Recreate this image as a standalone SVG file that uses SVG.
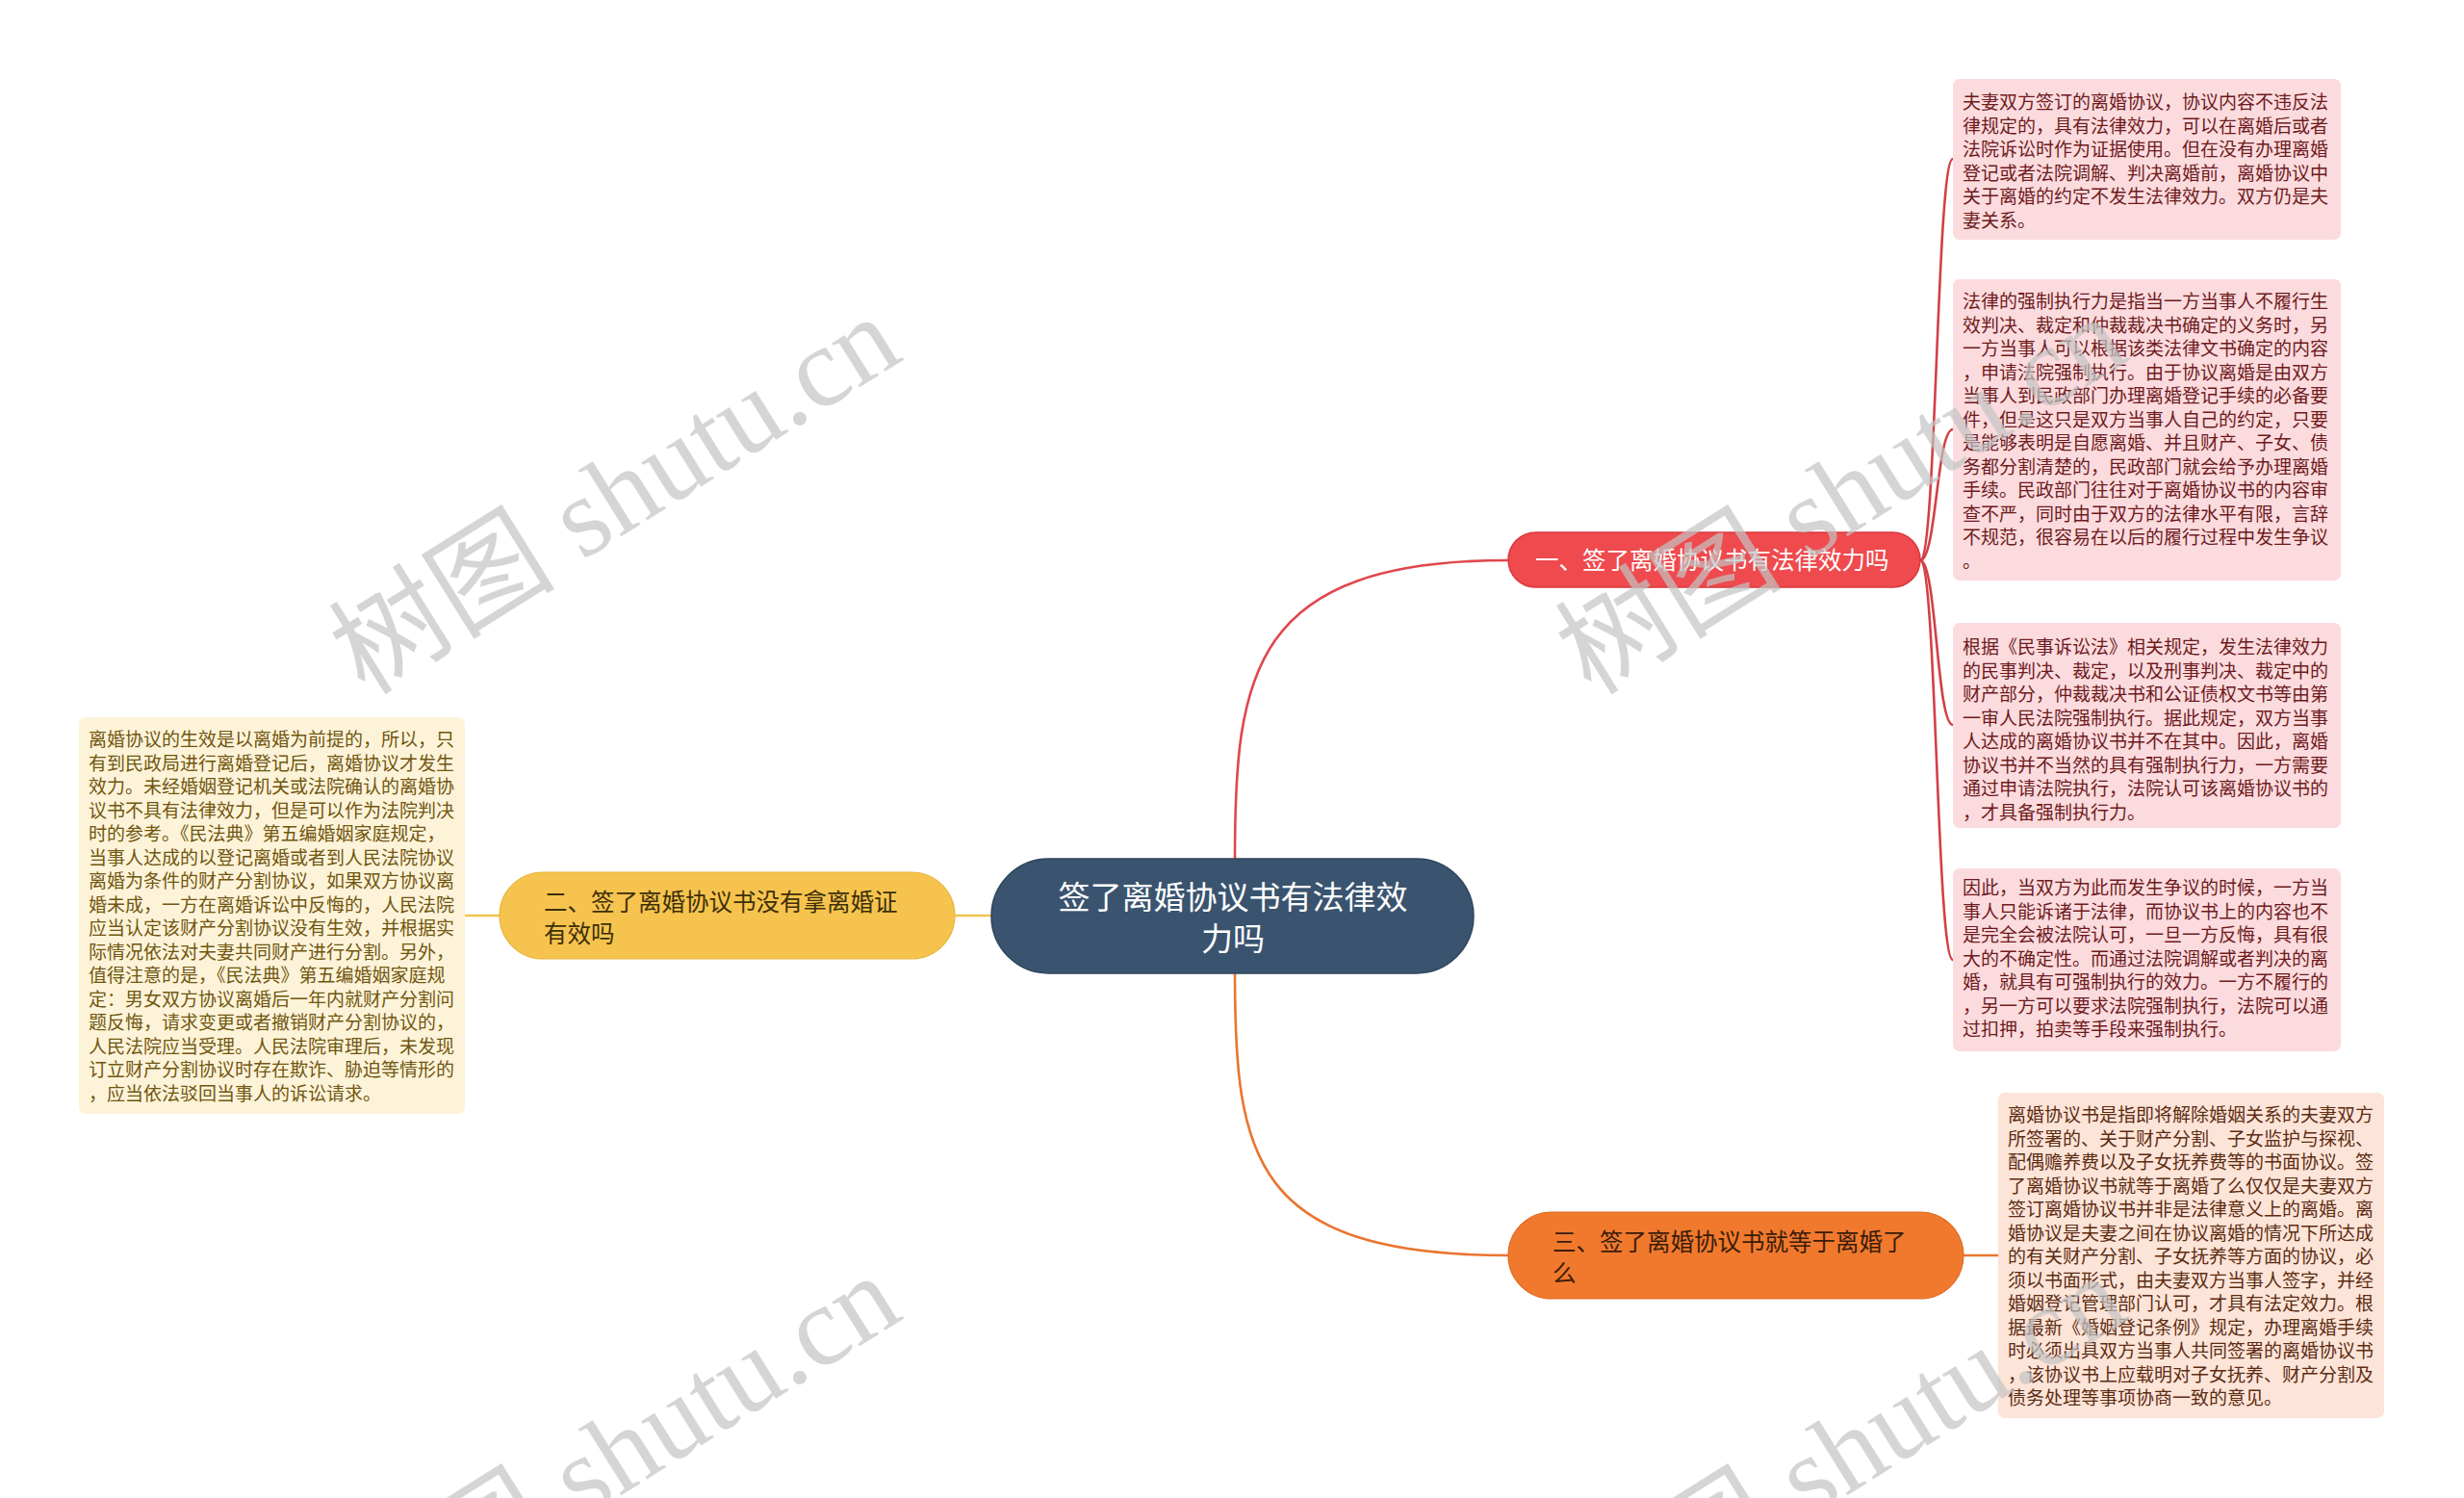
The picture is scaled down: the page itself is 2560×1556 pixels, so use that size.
<svg xmlns="http://www.w3.org/2000/svg" width="2560" height="1556" viewBox="0 0 2560 1556">
<style>
.t{font-family:"Noto Sans CJK SC","Noto Sans",sans-serif;}
.leaf{font-size:19px;}
.pk{fill:#fbdbde;}
.pkt{fill:#6e1a1c;}
.pe{fill:#fde4d8;}
.pet{fill:#5c2c12;}
.cr{fill:#fdf3d9;}
.crt{fill:#70560f;}
.br{font-size:24.5px;}
.wm{font-family:"Liberation Serif","Noto Sans CJK SC",serif;font-size:118px;fill:#c4c4c4;opacity:0.7;}
.c{fill:none;stroke-width:2.6;stroke-linecap:round;}
</style>
<rect width="2560" height="1556" fill="#ffffff"/>
<g id="connectors">
<path class="c" stroke="#e0474c" d="M1283,892 C1283,700 1300,582 1567,582"/>
<path class="c" stroke="#ea7530" d="M1283,1011 C1283,1200 1300,1304 1567,1304"/>
<path class="c" stroke="#f2c34c" d="M992,951 L1030,951"/>
<path class="c" stroke="#f2c34c" d="M483,951 L519,951"/>
<path class="c" stroke="#ea7530" d="M2040,1304 L2076,1304"/>
<path class="c" stroke="#d24046" d="M1995,582 C2012,582 2012,165 2029,165"/>
<path class="c" stroke="#d24046" d="M1995,582 C2012,582 2012,446 2029,446"/>
<path class="c" stroke="#d24046" d="M1995,582 C2012,582 2012,753 2029,753"/>
<path class="c" stroke="#d24046" d="M1995,582 C2012,582 2012,997 2029,997"/>
</g>
<g id="center">
<rect x="1030" y="892" width="501" height="119" rx="59.5" fill="#3a546f" stroke="#2e445b" stroke-width="1.5"/>
<text class="t" font-size="33" fill="#ffffff" text-anchor="middle"><tspan x="1281" y="943.5">签了离婚协议书有法律效</tspan><tspan x="1281" y="986.5">力吗</tspan></text>
</g>
<g id="branch1">
<rect x="1567" y="553" width="428" height="57" rx="28.5" fill="#ef4a4e" stroke="#d9393e" stroke-width="1.5"/>
<text class="t br" fill="#ffffff" x="1595" y="591">一、签了离婚协议书有法律效力吗</text>
</g>
<g id="branch2">
<rect x="519" y="906" width="473" height="90" rx="45" fill="#f6c44e" stroke="#e8b640" stroke-width="1.2"/>
<text class="t br" fill="#3d2f0a"><tspan x="565" y="946">二、签了离婚协议书没有拿离婚证</tspan><tspan x="565" y="979">有效吗</tspan></text>
</g>
<g id="branch3">
<rect x="1567" y="1259" width="473" height="90" rx="45" fill="#f0792d" stroke="#e06b22" stroke-width="1.2"/>
<text class="t br" fill="#3a1c08"><tspan x="1613" y="1299">三、签了离婚协议书就等于离婚了</tspan><tspan x="1613" y="1332">么</tspan></text>
</g>
<g id="leaf1">
<rect class="pk" x="2029" y="82" width="403" height="167" rx="7"/>
<text class="t leaf pkt"><tspan x="2039" y="113">夫妻双方签订的离婚协议，协议内容不违反法</tspan><tspan x="2039" dy="24.5">律规定的，具有法律效力，可以在离婚后或者</tspan><tspan x="2039" dy="24.5">法院诉讼时作为证据使用。但在没有办理离婚</tspan><tspan x="2039" dy="24.5">登记或者法院调解、判决离婚前，离婚协议中</tspan><tspan x="2039" dy="24.5">关于离婚的约定不发生法律效力。双方仍是夫</tspan><tspan x="2039" dy="24.5">妻关系。</tspan></text>
</g>
<g id="leaf2">
<rect class="pk" x="2029" y="290" width="403" height="313" rx="7"/>
<text class="t leaf pkt"><tspan x="2039" y="320">法律的强制执行力是指当一方当事人不履行生</tspan><tspan x="2039" dy="24.5">效判决、裁定和仲裁裁决书确定的义务时，另</tspan><tspan x="2039" dy="24.5">一方当事人可以根据该类法律文书确定的内容</tspan><tspan x="2039" dy="24.5">，申请法院强制执行。由于协议离婚是由双方</tspan><tspan x="2039" dy="24.5">当事人到民政部门办理离婚登记手续的必备要</tspan><tspan x="2039" dy="24.5">件，但是这只是双方当事人自己的约定，只要</tspan><tspan x="2039" dy="24.5">是能够表明是自愿离婚、并且财产、子女、债</tspan><tspan x="2039" dy="24.5">务都分割清楚的，民政部门就会给予办理离婚</tspan><tspan x="2039" dy="24.5">手续。民政部门往往对于离婚协议书的内容审</tspan><tspan x="2039" dy="24.5">查不严，同时由于双方的法律水平有限，言辞</tspan><tspan x="2039" dy="24.5">不规范，很容易在以后的履行过程中发生争议</tspan><tspan x="2039" dy="24.5">。</tspan></text>
</g>
<g id="leaf3">
<rect class="pk" x="2029" y="647" width="403" height="213" rx="7"/>
<text class="t leaf pkt"><tspan x="2039" y="679">根据《民事诉讼法》相关规定，发生法律效力</tspan><tspan x="2039" dy="24.5">的民事判决、裁定，以及刑事判决、裁定中的</tspan><tspan x="2039" dy="24.5">财产部分，仲裁裁决书和公证债权文书等由第</tspan><tspan x="2039" dy="24.5">一审人民法院强制执行。据此规定，双方当事</tspan><tspan x="2039" dy="24.5">人达成的离婚协议书并不在其中。因此，离婚</tspan><tspan x="2039" dy="24.5">协议书并不当然的具有强制执行力，一方需要</tspan><tspan x="2039" dy="24.5">通过申请法院执行，法院认可该离婚协议书的</tspan><tspan x="2039" dy="24.5">，才具备强制执行力。</tspan></text>
</g>
<g id="leaf4">
<rect class="pk" x="2029" y="902" width="403" height="190" rx="7"/>
<text class="t leaf pkt"><tspan x="2039" y="929">因此，当双方为此而发生争议的时候，一方当</tspan><tspan x="2039" dy="24.5">事人只能诉诸于法律，而协议书上的内容也不</tspan><tspan x="2039" dy="24.5">是完全会被法院认可，一旦一方反悔，具有很</tspan><tspan x="2039" dy="24.5">大的不确定性。而通过法院调解或者判决的离</tspan><tspan x="2039" dy="24.5">婚，就具有可强制执行的效力。一方不履行的</tspan><tspan x="2039" dy="24.5">，另一方可以要求法院强制执行，法院可以通</tspan><tspan x="2039" dy="24.5">过扣押，拍卖等手段来强制执行。</tspan></text>
</g>
<g id="leaf5">
<rect class="pe" x="2076" y="1135" width="401" height="338" rx="7"/>
<text class="t leaf pet"><tspan x="2086" y="1165">离婚协议书是指即将解除婚姻关系的夫妻双方</tspan><tspan x="2086" dy="24.5">所签署的、关于财产分割、子女监护与探视、</tspan><tspan x="2086" dy="24.5">配偶赡养费以及子女抚养费等的书面协议。签</tspan><tspan x="2086" dy="24.5">了离婚协议书就等于离婚了么仅仅是夫妻双方</tspan><tspan x="2086" dy="24.5">签订离婚协议书并非是法律意义上的离婚。离</tspan><tspan x="2086" dy="24.5">婚协议是夫妻之间在协议离婚的情况下所达成</tspan><tspan x="2086" dy="24.5">的有关财产分割、子女抚养等方面的协议，必</tspan><tspan x="2086" dy="24.5">须以书面形式，由夫妻双方当事人签字，并经</tspan><tspan x="2086" dy="24.5">婚姻登记管理部门认可，才具有法定效力。根</tspan><tspan x="2086" dy="24.5">据最新《婚姻登记条例》规定，办理离婚手续</tspan><tspan x="2086" dy="24.5">时必须出具双方当事人共同签署的离婚协议书</tspan><tspan x="2086" dy="24.5">，该协议书上应载明对子女抚养、财产分割及</tspan><tspan x="2086" dy="24.5">债务处理等事项协商一致的意见。</tspan></text>
</g>
<g id="leaf6">
<rect class="cr" x="82" y="745" width="401" height="412" rx="7"/>
<text class="t leaf crt"><tspan x="92" y="775">离婚协议的生效是以离婚为前提的，所以，只</tspan><tspan x="92" dy="24.5">有到民政局进行离婚登记后，离婚协议才发生</tspan><tspan x="92" dy="24.5">效力。未经婚姻登记机关或法院确认的离婚协</tspan><tspan x="92" dy="24.5">议书不具有法律效力，但是可以作为法院判决</tspan><tspan x="92" dy="24.5">时的参考。《民法典》第五编婚姻家庭规定，</tspan><tspan x="92" dy="24.5">当事人达成的以登记离婚或者到人民法院协议</tspan><tspan x="92" dy="24.5">离婚为条件的财产分割协议，如果双方协议离</tspan><tspan x="92" dy="24.5">婚未成，一方在离婚诉讼中反悔的，人民法院</tspan><tspan x="92" dy="24.5">应当认定该财产分割协议没有生效，并根据实</tspan><tspan x="92" dy="24.5">际情况依法对夫妻共同财产进行分割。另外，</tspan><tspan x="92" dy="24.5">值得注意的是，《民法典》第五编婚姻家庭规</tspan><tspan x="92" dy="24.5">定：男女双方协议离婚后一年内就财产分割问</tspan><tspan x="92" dy="24.5">题反悔，请求变更或者撤销财产分割协议的，</tspan><tspan x="92" dy="24.5">人民法院应当受理。人民法院审理后，未发现</tspan><tspan x="92" dy="24.5">订立财产分割协议时存在欺诈、胁迫等情形的</tspan><tspan x="92" dy="24.5">，应当依法驳回当事人的诉讼请求。</tspan></text>
</g>
<g id="watermarks">
<text class="wm" text-anchor="middle" x="660" y="548" transform="rotate(-32 660 548)">树图 shutu.cn</text>
<text class="wm" text-anchor="middle" x="1934" y="548" transform="rotate(-32 1934 548)">树图 shutu.cn</text>
<text class="wm" text-anchor="middle" x="660" y="1544" transform="rotate(-32 660 1544)">树图 shutu.cn</text>
<text class="wm" text-anchor="middle" x="1934" y="1544" transform="rotate(-32 1934 1544)">树图 shutu.cn</text>
</g>
</svg>
